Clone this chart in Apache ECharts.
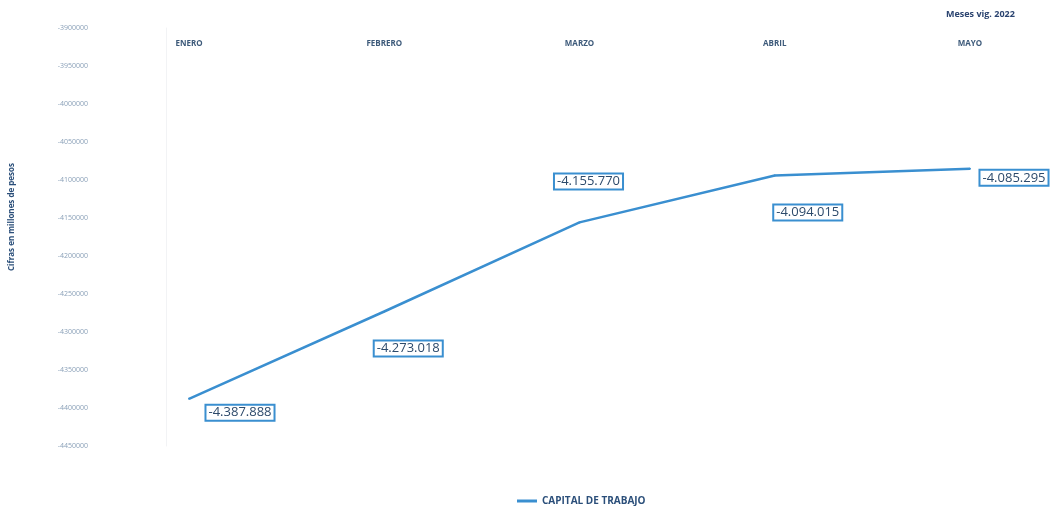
<!DOCTYPE html>
<html>
<head>
<meta charset="utf-8">
<script src="https://cdn.jsdelivr.net/npm/echarts@6/dist/echarts.min.js"></script>
<style>html,body{margin:0;padding:0;background:#fff}#c{width:1052px;height:506px}</style>
</head>
<body>
<div id="c"></div>
<script>
const categories = ['ENERO', 'FEBRERO', 'MARZO', 'ABRIL', 'MAYO'];
const capitalTrabajo = [-4387888, -4273018, -4155770, -4094015, -4085295];
const seriesName = 'CAPITAL DE TRABAJO';
const xAxisTitle = 'Meses vig. 2022';
const yAxisTitle = 'Cifras en millones de pesos';
const yMin = -4450000, yMax = -3900000, yStep = 50000;
const labelOffsets = [[51, 14], [24, 37], [9, -41], [33, 37], [44, 9]];

function fmt(v) {
  const s = Math.abs(v).toString().replace(/\B(?=(\d{3})+(?!\d))/g, '.');
  return (v < 0 ? '-' : '') + s;
}

const chart = echarts.init(document.getElementById('c'));
chart.setOption({
  animation: false,
  backgroundColor: '#ffffff',
  grid: { left: 186, right: 82, top: 28, bottom: 60 },
  legend: {
    top: 491, left: 512,
    itemWidth: 20, itemHeight: 3, itemGap: 3,
    icon: 'rect',
    itemStyle: { color: '#3a8fd0' },
    textStyle: { fontFamily: 'Open Sans', fontWeight: 'bold', fontSize: 10, color: '#2b4f7a' },
    data: [seriesName]
  },
  graphic: [{
    type: 'text', left: 946, top: 10,
    style: { text: xAxisTitle, font: 'bold 9px "Open Sans"', fill: '#2b4470' }
  }],
  xAxis: {
    type: 'category', data: categories, position: 'top', boundaryGap: false,
    axisLine: { show: false }, axisTick: { show: false },
    axisLabel: { inside: true, margin: 12, fontFamily: 'Open Sans', fontWeight: 'bold', fontSize: 8, color: '#3d5a7a' },
    splitLine: { show: false }
  },
  yAxis: {
    type: 'value', min: yMin, max: yMax, interval: yStep,
    offset: 23,
    name: yAxisTitle, nameLocation: 'middle', nameRotate: 90, nameGap: 150,
    nameTextStyle: { fontFamily: 'Open Sans', fontWeight: 'bold', fontSize: 8, color: '#2b4f7a', padding: [0, 0, 0, 40] },
    axisLine: { show: true, lineStyle: { color: '#f2f3f5', width: 1 } },
    axisTick: { show: false },
    axisLabel: { margin: 78, formatter: v => String(v), fontFamily: 'Open Sans', fontSize: 7, color: '#8aa0b8' },
    splitLine: { show: false }
  },
  series: [{
    name: seriesName, type: 'line',
    data: capitalTrabajo.map((v, i) => ({
      value: v,
      label: { offset: labelOffsets[i] }
    })),
    symbol: 'circle', symbolSize: 2, showSymbol: true,
    itemStyle: { color: '#3a8fd0' },
    lineStyle: { color: '#3a8fd0', width: 2.5 },
    label: {
      show: true, position: 'inside',
      formatter: p => fmt(p.value),
      fontFamily: 'Open Sans', fontSize: 13, color: '#2d4a6b',
      backgroundColor: '#ffffff', borderColor: '#3a8fd0', borderWidth: 2,
      padding: [1, 2, 0, 2]
    },
    emphasis: { disabled: true }
  }]
});
</script>
</body>
</html>
